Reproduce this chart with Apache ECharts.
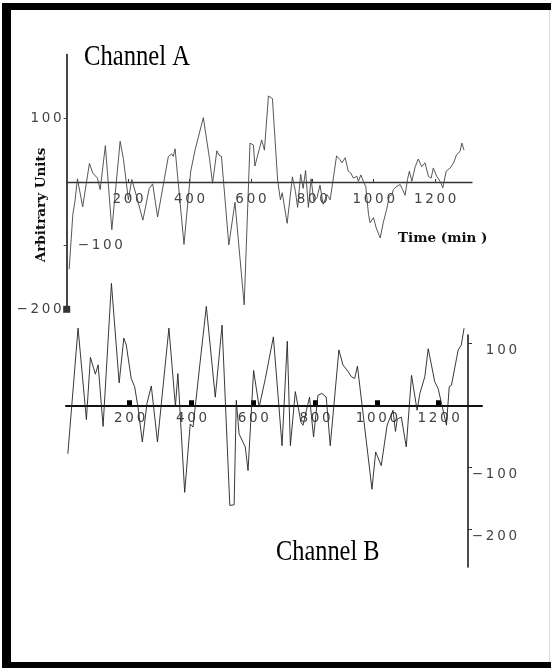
<!DOCTYPE html>
<html>
<head>
<meta charset="utf-8">
<script src="https://cdn.jsdelivr.net/npm/echarts@6/dist/echarts.min.js"></script>
<style>html,body{margin:0;padding:0;background:#fff;}#c{width:551px;height:668px;}</style>
</head>
<body>
<div id="c"></div>
<script>
// ---- Channel A (time in min, arbitrary units) ----
const timeA = [8,20,27,35,52,74,85,100,109,126,147,174,185,201,212,229,248,269,280,296,331,342,347,353,382,404,418,445,465,475,489,496,504,528,548,578,597,608,613,635,644,657,670,687,696,702,718,735,745,752,762,770,778,787,796,805,815,825,835,848,858,879,890,896,907,917,925,934,945,950,958,966,974,983,988,999,1008,1021,1031,1042,1051,1059,1064,1075,1086,1094,1102,1110,1116,1124,1135,1145,1156,1167,1178,1187,1194,1205,1216,1225,1236,1249,1260,1270,1281,1287,1294];
const valA  = [-137,-51,-30,5,-39,29,14,6,-12,57,-75,64,35,-28,4,-25,-60,-10,-3,-55,40,44,40,52,-98,17,50,101,37,-2,49,42,40,-99,-32,-193,61,58,25,66,50,135,131,3,-28,-17,-65,8,-15,-40,12,-10,18,-40,5,-30,-25,-5,-35,-20,-28,41,35,30,38,17,14,6,9,1,11,1,-7,-51,-64,-56,-72,-88,-64,-43,-22,-20,-12,-7,-4,-12,-21,4,17,1,24,36,24,30,9,6,22,9,1,-9,17,22,30,43,48,61,50];

// ---- Channel B ----
const timeB = [0,33,60,73,89,98,114,141,166,181,189,205,216,227,241,256,270,290,327,348,356,378,396,405,427,448,477,499,524,538,545,554,574,583,601,619,639,645,665,693,710,720,736,754,761,772,782,795,809,822,836,849,877,890,907,917,928,937,984,996,1014,1033,1052,1060,1066,1079,1095,1112,1130,1139,1155,1166,1187,1198,1225,1234,1241,1263,1273,1282];
const valB  = [-78,124,-23,77,50,65,-34,196,36,108,97,43,30,-3,-59,3,31,-59,124,-2,51,-140,-30,-35,65,159,13,129,-161,-160,8,-46,-67,-105,56,-3,43,46,110,-65,103,-65,22,-27,-32,-8,13,-51,16,19,13,-65,89,65,54,46,43,63,-135,-75,-97,-32,-8,-42,-22,-19,-67,48,-8,19,46,91,38,27,-32,30,32,89,97,124];

// ---- tick labels ----
const timeTicks = [200,400,600,800,1000,1200];
const yTicksALeft = [100,-200];
const yTicksAInside = [-100];
const yTicksB = [100,-100,-200];

const spaced = v => String(v).replace('-', '\u2212').split('').join('\u2009');
const tickFont = {fontFamily:'DejaVu Sans', fontSize:13.5, color:'#444'};

// grid geometry
const gA = {left:66.7, right:79, top:54.6, height:254.7};
const gB = {left:66, right:69, top:335, height:232};
const yA = {min:-200, max:200};
const yB = {min:-260, max:113};
// offsets that bring the bottom x axes up to the zero line
const offA = -gA.height * (0 - yA.min) / (yA.max - yA.min);
const offB = -gB.height * (0 - yB.min) / (yB.max - yB.min);

const chart = echarts.init(document.getElementById('c'), null, {renderer:'canvas'});
chart.setOption({
  animation:false,
  backgroundColor:'#fff',
  grid:[gA, gB],
  xAxis:[
    {gridIndex:0, type:'value', min:0, max:1320, position:'bottom', offset:offA,
     axisLine:{onZero:false, lineStyle:{color:'#333', width:1.3}},
     axisTick:{show:true, inside:true, length:3, customValues:timeTicks, lineStyle:{color:'#333'}},
     axisLabel:Object.assign({customValues:timeTicks, margin:11, formatter:spaced}, tickFont),
     splitLine:{show:false}},
    {gridIndex:1, type:'value', min:-6, max:1340, position:'bottom', offset:offB,
     axisLine:{onZero:false, lineStyle:{color:'#111', width:2}},
     axisTick:{show:true, inside:true, length:5, customValues:timeTicks, lineStyle:{color:'#000', width:5}},
     axisLabel:Object.assign({customValues:timeTicks, margin:6, formatter:spaced}, tickFont),
     splitLine:{show:false}}
  ],
  yAxis:[
    {gridIndex:0, type:'value', min:yA.min, max:yA.max, position:'left',
     axisLine:{show:true, onZero:false, symbol:['rect','none'], symbolSize:[7,7], lineStyle:{color:'#333', width:1.8}},
     axisTick:{show:true, length:3, customValues:[100,-100], lineStyle:{color:'#444'}},
     axisLabel:Object.assign({customValues:yTicksALeft, margin:5, formatter:spaced}, tickFont),
     splitLine:{show:false}},
    {gridIndex:0, type:'value', min:yA.min, max:yA.max, position:'left',
     axisLine:{show:false, onZero:false}, axisTick:{show:false},
     axisLabel:Object.assign({customValues:yTicksAInside, inside:true, margin:11, formatter:spaced}, tickFont),
     splitLine:{show:false}},
    {gridIndex:1, type:'value', min:yB.min, max:yB.max, position:'right', offset:-14,
     axisLine:{show:true, onZero:false, lineStyle:{color:'#111', width:1.5}},
     axisTick:{show:true, length:4, customValues:yTicksB, lineStyle:{color:'#333'}},
     axisLabel:Object.assign({customValues:yTicksB, margin:49, align:'right', verticalAlign:'top', formatter:spaced}, tickFont),
     splitLine:{show:false}}
  ],
  series:[
    {type:'line', xAxisIndex:0, yAxisIndex:0, showSymbol:false, symbol:'none', clip:false,
     data:timeA.map((t,i)=>[t,valA[i]]), lineStyle:{color:'#444', width:0.9}},
    {type:'line', xAxisIndex:1, yAxisIndex:2, showSymbol:false, symbol:'none', clip:false,
     data:timeB.map((t,i)=>[t,valB[i]]), lineStyle:{color:'#222', width:0.9}}
  ],
  graphic:[
    {type:'rect', left:3, top:3, shape:{width:548, height:7}, style:{fill:'#000'}},
    {type:'rect', left:2, top:3, shape:{width:9, height:665}, style:{fill:'#000'}},
    {type:'rect', left:3, top:662, shape:{width:548, height:6}, style:{fill:'#000'}},
    {type:'rect', left:549, top:10, shape:{width:1, height:652}, style:{fill:'#ddd'}},
    {type:'text', x:84, y:57, scaleX:0.85, style:{text:'Channel A', font:'29px "Liberation Serif"', fill:'#000', verticalAlign:'middle', align:'left'}},
    {type:'text', x:276, y:552, scaleX:0.84, style:{text:'Channel B', font:'29px "Liberation Serif"', fill:'#000', verticalAlign:'middle', align:'left'}},
    {type:'text', x:398, y:238, style:{text:'Time (min )', font:'bold 13.5px "DejaVu Serif"', fill:'#111', verticalAlign:'middle', align:'left'}},
    {type:'text', x:41, y:205, rotation:Math.PI/2, style:{text:'Arbitrary Units', font:'bold 13.5px "DejaVu Serif"', fill:'#111', verticalAlign:'middle', align:'center'}}
  ]
});
</script>
</body>
</html>
